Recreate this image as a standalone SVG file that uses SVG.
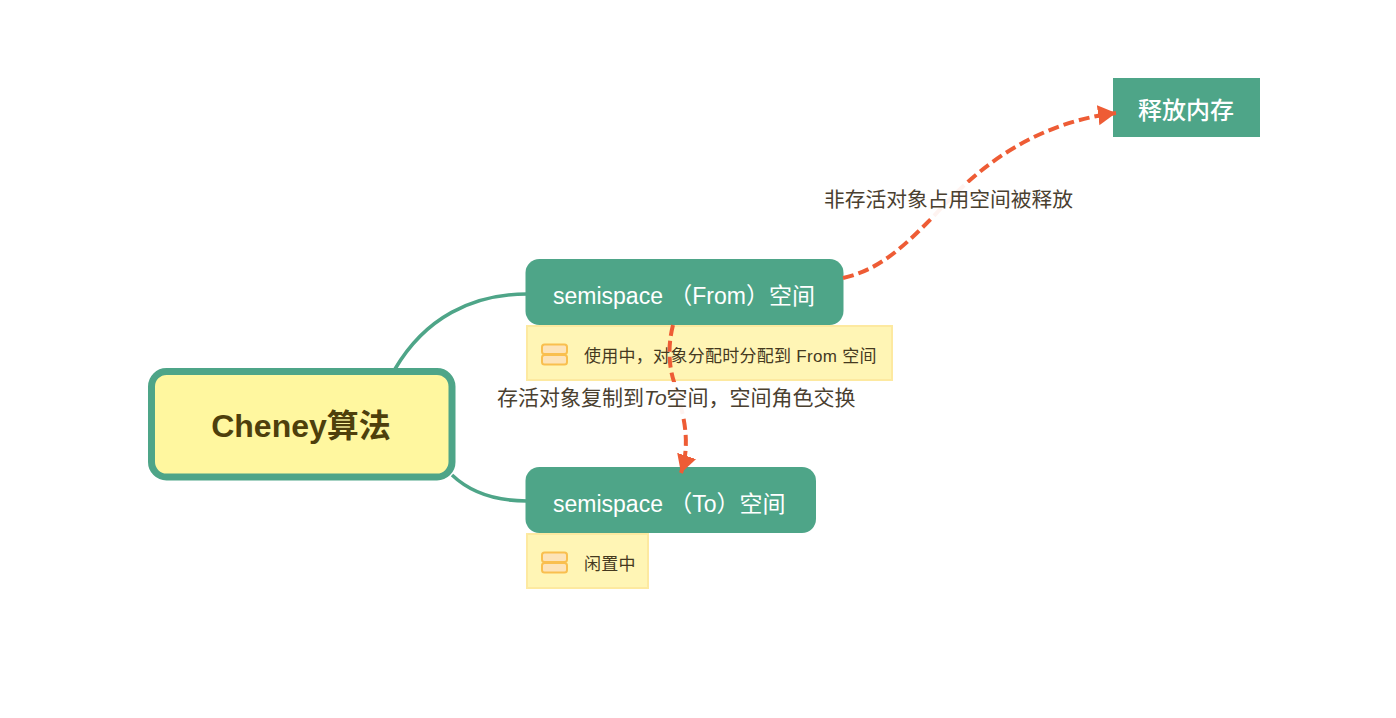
<svg xmlns="http://www.w3.org/2000/svg" width="1396" height="718" viewBox="0 0 1396 718">
<style>
text{font-family:"Liberation Sans","Noto Sans CJK SC",sans-serif}
.branch{fill:none;stroke:#4ea588;stroke-width:3.5}
.rel{fill:none;stroke:#ee5c35;stroke-width:4;stroke-dasharray:11 5}
.green{fill:#4ea588}
.topic{fill:#fff;font-size:23px}
.note{fill:#fff5b5;stroke:#fde9a0;stroke-width:2}
.notetext{fill:#45391f;font-size:17px;letter-spacing:.28px}
.rellabel{fill:#4a4030}
.ic{fill:#fde3b8;stroke:#f9bf4f;stroke-width:2}
</style>
<defs>
<marker id="arrow" markerUnits="userSpaceOnUse" markerWidth="22" markerHeight="22" refX="18" refY="11" orient="auto"><path d="M0 1L18 11L0 21Z" fill="#ee5c35"/></marker>
<g id="noteicon"><rect class="ic" x="0" y="0" width="25" height="9.500" rx="2.500"/><rect class="ic" x="0" y="10.500" width="25" height="9.500" rx="2.500"/></g>
</defs>
<rect width="1396" height="718" fill="#fff"/>
<g id="connectors">
<path class="branch" d="M395 369C425 318 472 294 527 294"/>
<path class="branch" d="M452 475C472 494 497 501 527 501"/>
</g>
<g id="root"><rect x="151.500" y="371.500" width="300.500" height="105.500" rx="15" fill="#fff79f" stroke="#4ea588" stroke-width="7"/><text x="301" y="437" text-anchor="middle" font-size="32" font-weight="700" fill="#4e3f0c">Cheney算法</text></g>
<g id="from-note"><rect class="note" x="527" y="326" width="365" height="54"/><use href="#noteicon" x="542" y="344.500"/><text class="notetext" x="584" y="362">使用中，对象分配时分配到 From 空间</text></g>
<g id="from"><rect class="green" x="525.500" y="259" width="318" height="66" rx="14"/><text class="topic" x="553" y="304">semispace （From）空间</text></g>
<g id="to-note"><rect class="note" x="527" y="534" width="121" height="54"/><use href="#noteicon" x="542" y="552.500"/><text class="notetext" x="584" y="570">闲置中</text></g>
<g id="to"><rect class="green" x="525.500" y="467" width="290.500" height="66" rx="14"/><text class="topic" x="553" y="512">semispace （To）空间</text></g>
<g id="release"><rect class="green" x="1113" y="78" width="147" height="59"/><text x="1186" y="119" text-anchor="middle" font-size="24" font-weight="500" fill="#fff">释放内存</text></g>
<g id="relationships">
<path class="rel" d="M843 278C880 270 905 245 933 217C965 182 1020 125 1116 113" marker-end="url(#arrow)"/>
<path class="rel" d="M673 325C668 345 668 365 675 385C682 410 692 440 681 473" marker-end="url(#arrow)"/>
</g>
<g id="labels">
<rect x="820" y="183" width="256" height="35" fill="#fff" fill-opacity=".93"/>
<text class="rellabel" x="824" y="207" font-size="20.750">非存活对象占用空间被释放</text>
<rect x="494" y="382" width="364" height="34" fill="#fff" fill-opacity=".93"/>
<text class="rellabel" x="497" y="405" font-size="21">存活对象复制到<tspan font-style="italic">To</tspan>空间，空间角色交换</text>
</g>
</svg>
